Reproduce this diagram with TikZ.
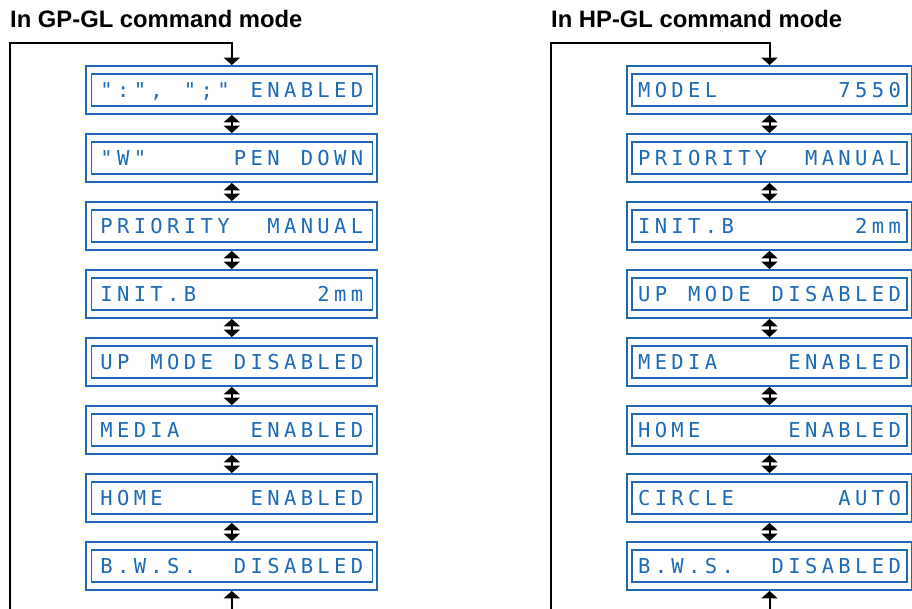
\documentclass[tikz,border=0pt]{standalone}
\usepackage{fontspec}
\usepackage{xcolor}
\usetikzlibrary{arrows.meta,positioning}
\newfontfamily\headfont{Liberation Sans}
\newfontfamily\lcdfont{DejaVu Sans Mono}
\definecolor{lcdblue}{RGB}{28,106,182}
\ExplSyntaxOn
\NewDocumentCommand \lcd { m } { \tl_map_inline:nn {#1} { \makebox[16.7pt]{##1} } }
\ExplSyntaxOff

\begin{document}
\begin{tikzpicture}[x=1pt,y=-1pt,
  >={Triangle[length=7.5pt,width=16pt]},
  ttl/.style={anchor=base west,inner sep=0pt,font=\headfont\bfseries\fontsize{23.8}{23.8}\selectfont},
  lcd/.style={draw=lcdblue,line width=1.8pt,minimum width=291pt,minimum height=48pt,inner sep=0pt,
    text height=14.6pt,text depth=0pt,text=lcdblue,font=\lcdfont\fontsize{20.5}{20.5}\selectfont,
    path picture={\draw[lcdblue,line width=1.1pt] ([xshift=5pt,yshift=-8pt]path picture bounding box.north west)
      rectangle ([xshift=-5pt,yshift=8pt]path picture bounding box.south east);}},
  lcdr/.style={lcd,minimum width=285pt},
  link/.style={<->,line width=2pt}]
  \useasboundingbox (0,0) rectangle (912,609);
  \node[ttl] (gptitle) at (10,28) {In GP-GL command mode};
  \node[ttl] (hptitle) at (551,28) {In HP-GL command mode};
  \node[lcd] (g1) at (231.8,90) {\lcd{":",~";"~ENABLED}};
  \node[lcd] (g2) at (231.8,158) {\lcd{"W"~~~~~PEN~DOWN}};
  \node[lcd] (g3) at (231.8,226) {\lcd{PRIORITY~~MANUAL}};
  \node[lcd] (g4) at (231.8,294) {\lcd{INIT.B~~~~~~~2mm}};
  \node[lcd] (g5) at (231.8,362) {\lcd{UP~MODE~DISABLED}};
  \node[lcd] (g6) at (231.8,430) {\lcd{MEDIA~~~~ENABLED}};
  \node[lcd] (g7) at (231.8,498) {\lcd{HOME~~~~~ENABLED}};
  \node[lcd] (g8) at (231.8,566) {\lcd{B.W.S.~~DISABLED}};
  \node[lcdr] (h1) at (769.5,90) {\lcd{MODEL~~~~~~~7550}};
  \node[lcdr] (h2) at (769.5,158) {\lcd{PRIORITY~~MANUAL}};
  \node[lcdr] (h3) at (769.5,226) {\lcd{INIT.B~~~~~~~2mm}};
  \node[lcdr] (h4) at (769.5,294) {\lcd{UP~MODE~DISABLED}};
  \node[lcdr] (h5) at (769.5,362) {\lcd{MEDIA~~~~ENABLED}};
  \node[lcdr] (h6) at (769.5,430) {\lcd{HOME~~~~~ENABLED}};
  \node[lcdr] (h7) at (769.5,498) {\lcd{CIRCLE~~~~~~AUTO}};
  \node[lcdr] (h8) at (769.5,566) {\lcd{B.W.S.~~DISABLED}};
  \draw[link] (g1) -- (g2);
  \draw[link] (g2) -- (g3);
  \draw[link] (g3) -- (g4);
  \draw[link] (g4) -- (g5);
  \draw[link] (g5) -- (g6);
  \draw[link] (g6) -- (g7);
  \draw[link] (g7) -- (g8);
  \draw[link] (h1) -- (h2);
  \draw[link] (h2) -- (h3);
  \draw[link] (h3) -- (h4);
  \draw[link] (h4) -- (h5);
  \draw[link] (h5) -- (h6);
  \draw[link] (h6) -- (h7);
  \draw[link] (h7) -- (h8);
  \coordinate (gtop) at (10,43);
  \coordinate (gbot) at (10,640);
  \coordinate (htop) at (551,43);
  \coordinate (hbot) at (551,640);
  \draw[link] (g1.north) |- (gtop) -- (gbot) -| (g8.south);
  \draw[link] (h1.north) |- (htop) -- (hbot) -| (h8.south);
\end{tikzpicture}
\end{document}
